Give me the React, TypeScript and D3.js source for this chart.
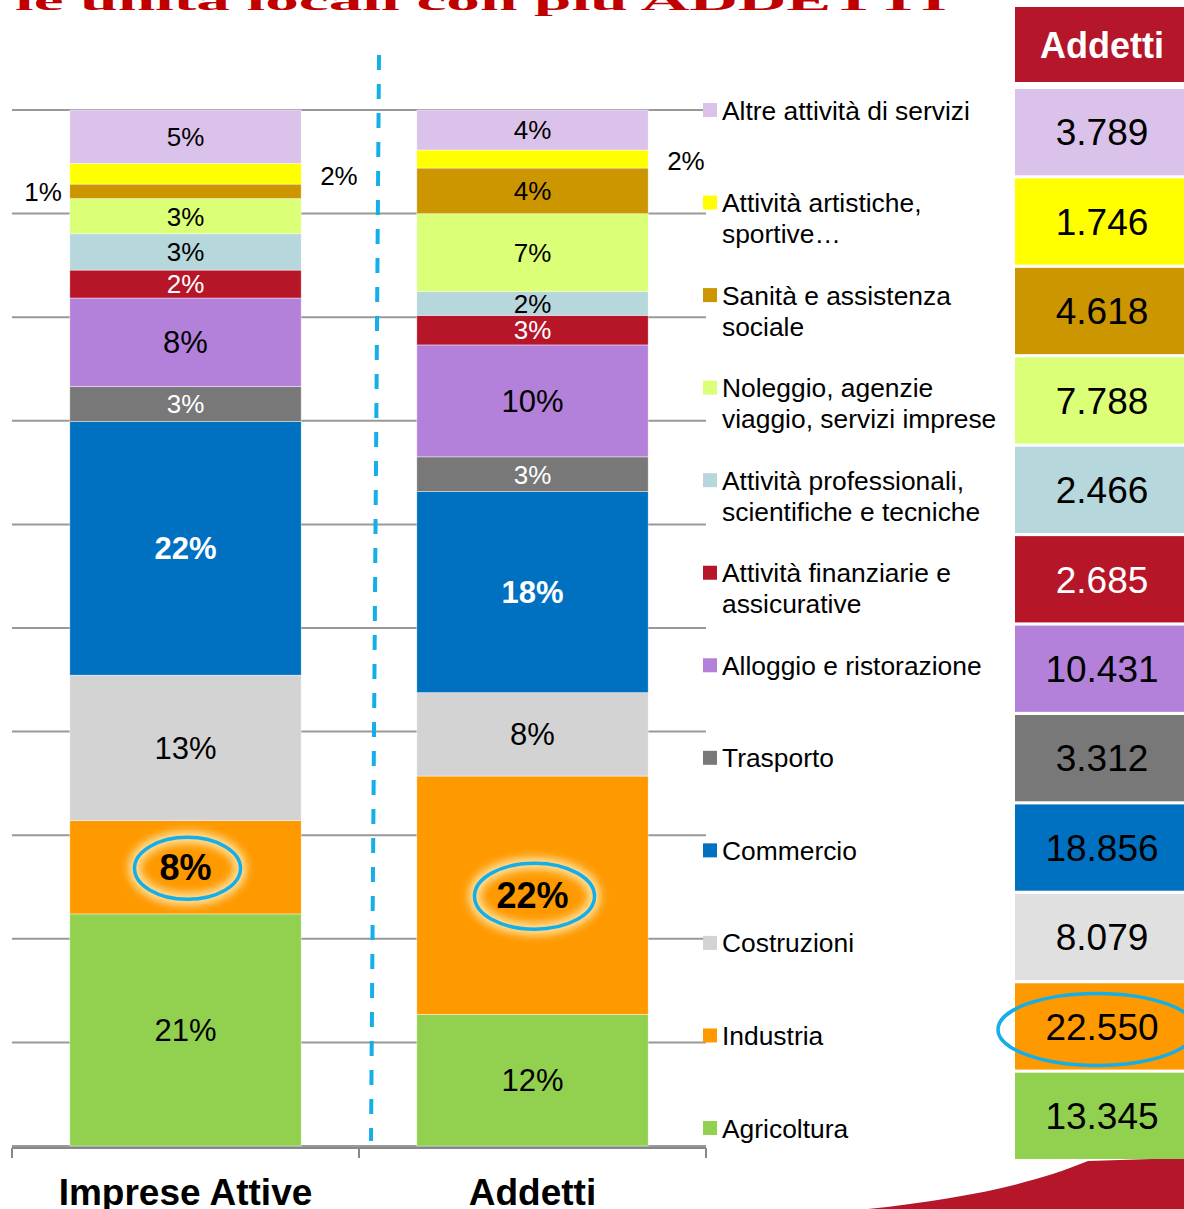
import * as d3 from "d3";

const bars = ["Imprese Attive", "Addetti"];

// top-to-bottom, as in the legend
const categories = [
  "Altre attività di servizi",
  "Attività artistiche, sportive…",
  "Sanità e assistenza sociale",
  "Noleggio, agenzie viaggio, servizi imprese",
  "Attività professionali, scientifiche e tecniche",
  "Attività finanziarie e assicurative",
  "Alloggio e ristorazione",
  "Trasporto",
  "Commercio",
  "Costruzioni",
  "Industria",
  "Agricoltura",
];

const legendLines = [
  ["Altre attività di servizi"],
  ["Attività artistiche,", "sportive…"],
  ["Sanità e assistenza", "sociale"],
  ["Noleggio, agenzie", "viaggio, servizi imprese"],
  ["Attività professionali,", "scientifiche e tecniche"],
  ["Attività finanziarie e", "assicurative"],
  ["Alloggio e ristorazione"],
  ["Trasporto"],
  ["Commercio"],
  ["Costruzioni"],
  ["Industria"],
  ["Agricoltura"],
];

// share of active firms (%)
const impreseShare = [5.15, 2.0, 1.4, 3.4, 3.5, 2.7, 8.55, 3.35, 24.5, 14.05, 9.0, 22.4];
// share of employees (%)
const addettiShare = [3.86, 1.74, 4.4, 7.53, 2.28, 2.86, 10.8, 3.35, 19.4, 8.05, 23.0, 12.7];
// employees per sector (table)
const addetti = [3789, 1746, 4618, 7788, 2466, 2685, 10431, 3312, 18856, 8079, 22550, 13345];

const impreseLabels = ["5%", "2%", "1%", "3%", "3%", "2%", "8%", "3%", "22%", "13%", "8%", "21%"];
const addettiLabels = ["4%", "2%", "4%", "7%", "2%", "3%", "10%", "3%", "18%", "8%", "22%", "12%"];

const colors = [
  "#dbc2eb", "#ffff00", "#cc9600", "#dcff78", "#b6d7dc", "#b61628",
  "#b381da", "#787878", "#0070c0", "#d3d3d3", "#ff9900", "#92d050",
];
const cellColors = [
  "#dbc2eb", "#ffff00", "#cc9600", "#dcff78", "#b6d7dc", "#b61628",
  "#b381da", "#787878", "#0070c0", "#e0e0e0", "#ff9900", "#92d050",
];

const W = 1184;
const H = 1209;
const FONT = "'Liberation Sans', Arial, Helvetica, sans-serif";
const RED = "#b5162a";
const BLUE = "#14aee8";

const itFormat = d3.formatLocale({
  decimal: ",",
  thousands: ".",
  grouping: [3],
  currency: ["€", ""],
}).format(",");

export default function App() {
  const rows = [impreseShare, addettiShare].map((vals, bi) => {
    const r: any = { bar: bars[bi] };
    categories.forEach((c, i) => (r[c] = vals[i]));
    return r;
  });

  const series = d3
    .stack<any>()
    .keys([...categories].reverse())
    .offset(d3.stackOffsetExpand)(rows);

  const x = d3
    .scaleBand()
    .domain(bars)
    .range([12, 706])
    .paddingInner(1 / 3)
    .paddingOuter(1 / 6);
  const y = d3.scaleLinear().domain([0, 1]).range([1146, 110]);
  const bw = x.bandwidth();

  const legendY = d3.scaleLinear().domain([0, categories.length - 1]).range([110, 1128]);
  const rowBand = d3.scaleBand().domain(categories).range([89, 1159]).paddingInner(0.035);

  const labels = [impreseLabels, addettiLabels];
  // labels that sit outside the thin segments
  const outside: Record<string, string> = { "0-1": "right", "0-2": "left", "1-1": "right" };
  const whiteInk = new Set([5, 7, 8]);
  const bigLabel = new Set([6, 9, 11]);

  const segs = series.flatMap((s) => {
    const ci = categories.indexOf(s.key);
    return s.map((d, bi) => ({ ci, bi, y0: d[0], y1: d[1] }));
  });

  const gridTicks = d3.range(0, 1.0001, 0.1);

  return (
    <svg
      width={W}
      height={H}
      style={{ position: "absolute", left: 0, top: 0, fontFamily: FONT }}
    >
      <defs>
        <filter id="glow" x="-30%" y="-30%" width="160%" height="160%">
          <feGaussianBlur stdDeviation="4" />
        </filter>
      </defs>

      {/* title, cut off at the top of the picture */}
      <text
        transform="translate(15,10) scale(1,0.45)"
        fontFamily="'Liberation Serif', 'Times New Roman', serif"
        fontWeight="bold"
        fontSize={60}
        fill="#c00000"
        textLength={932}
        lengthAdjust="spacingAndGlyphs"
      >
        le unità locali con più ADDETTI
      </text>

      {/* gridlines */}
      {gridTicks.map((t) => (
        <line key={t} x1={12} x2={706} y1={y(t)} y2={y(t)} stroke="#999" strokeWidth={2} />
      ))}

      {/* bars */}
      {segs.map((s) => (
        <rect
          key={`${s.bi}-${s.ci}`}
          x={x(bars[s.bi])}
          y={y(s.y1)}
          width={bw}
          height={y(s.y0) - y(s.y1)}
          fill={colors[s.ci]}
          stroke="#fff"
          strokeWidth={0.6}
          strokeOpacity={0.7}
        />
      ))}

      {/* highlight ellipses on Industria */}
      {segs
        .filter((s) => s.ci === 10)
        .map((s) => {
          const cx = (x(bars[s.bi]) as number) + bw / 2 + 2;
          const cy = (y(s.y0) + y(s.y1)) / 2 + 1;
          const rx = s.bi === 0 ? 53 : 60;
          const ry = s.bi === 0 ? 31 : 33;
          return (
            <g key={`e${s.bi}`}>
              <ellipse cx={cx} cy={cy} rx={rx} ry={ry} fill="none" stroke="#ffe4a0" strokeWidth={12} filter="url(#glow)" />
              <ellipse cx={cx} cy={cy} rx={rx} ry={ry} fill="none" stroke={BLUE} strokeWidth={3.5} />
            </g>
          );
        })}

      {/* segment labels */}
      {segs.map((s) => {
        const bx = x(bars[s.bi]) as number;
        const cy = (y(s.y0) + y(s.y1)) / 2;
        const key = `${s.bi}-${s.ci}`;
        const side = outside[key];
        const txt = labels[s.bi][s.ci];
        const bold = s.ci === 8 || s.ci === 10;
        const size = s.ci === 10 ? 36 : s.ci === 8 ? 31 : bigLabel.has(s.ci) ? 31 : 26;
        let tx = bx + bw / 2;
        let anchor = "middle";
        let ty = cy;
        if (side === "right") {
          tx = bx + bw + 19;
          anchor = "start";
          ty = cy + 2;
        } else if (side === "left") {
          tx = bx - 8;
          anchor = "end";
        }
        return (
          <text
            key={`l${key}`}
            x={tx}
            y={ty}
            dy="0.36em"
            textAnchor={anchor}
            fontSize={size}
            fontWeight={bold ? "bold" : "normal"}
            fill={side ? "#000" : whiteInk.has(s.ci) ? "#fff" : "#000"}
          >
            {txt}
          </text>
        );
      })}

      {/* dashed divider */}
      <line x1={379} y1={55} x2={371} y2={1141} stroke={BLUE} strokeWidth={4} strokeDasharray="15 14" />

      {/* category axis */}
      <line x1={12} x2={706} y1={1148} y2={1148} stroke="#888" strokeWidth={2} />
      {[0, 1, 2].map((k) => {
        const tx = 12 + k * x.step();
        return <line key={k} x1={tx} x2={tx} y1={1148} y2={1158} stroke="#888" strokeWidth={2} />;
      })}
      {bars.map((b) => (
        <text
          key={b}
          x={(x(b) as number) + bw / 2}
          y={1205}
          textAnchor="middle"
          fontSize={37}
          fontWeight="bold"
          fill="#000"
        >
          {b}
        </text>
      ))}

      {/* legend */}
      {categories.map((c, i) => {
        const ly = legendY(i);
        return (
          <g key={c}>
            <rect x={703} y={ly - 7} width={14} height={14} fill={colors[i]} />
            <text x={722} y={ly} fontSize={26.4} fill="#000">
              {legendLines[i].map((line, k) => (
                <tspan key={k} x={722} dy={k === 0 ? "0.36em" : 31}>
                  {line}
                </tspan>
              ))}
            </text>
          </g>
        );
      })}

      {/* decorative swoosh */}
      <path d="M868,1209 C960,1199 1030,1185 1088,1161 L1184,1158 L1184,1209 Z" fill={RED} />

      {/* addetti table */}
      <rect x={1015} y={7} width={175} height={75} fill={RED} />
      <text x={1102} y={45} dy="0.36em" textAnchor="middle" fontSize={36} fontWeight="bold" fill="#fff">
        Addetti
      </text>
      {categories.map((c, i) => (
        <g key={`cell${c}`}>
          <rect x={1015} y={rowBand(c)} width={175} height={rowBand.bandwidth()} fill={cellColors[i]} />
          <text
            x={1102}
            y={(rowBand(c) as number) + rowBand.bandwidth() / 2}
            dy="0.36em"
            textAnchor="middle"
            fontSize={37}
            fill={i === 5 ? "#fff" : "#000"}
          >
            {itFormat(addetti[i])}
          </text>
        </g>
      ))}
      <ellipse
        cx={1097}
        cy={(rowBand(categories[10]) as number) + rowBand.bandwidth() / 2 + 3}
        rx={99}
        ry={36}
        fill="none"
        stroke={BLUE}
        strokeWidth={3.5}
      />
    </svg>
  );
}
